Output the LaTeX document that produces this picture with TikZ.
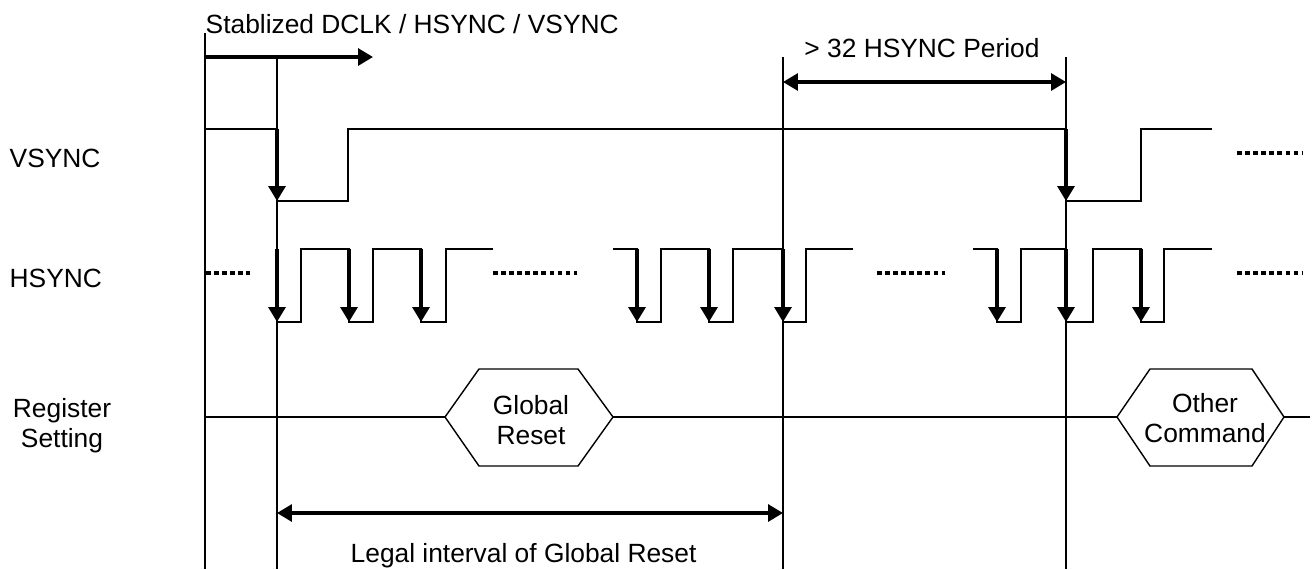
\documentclass[tikz,border=0pt]{standalone}
\usepackage{fontspec}
\setmainfont{Liberation Sans}
\usetikzlibrary{arrows.meta}

\begin{document}
\begin{tikzpicture}[x=0.02cm,y=-0.02cm,line width=0.8pt,
                    >={Triangle[length=8.5pt,width=9.6pt]},
                    font=\fontsize{15pt}{17pt}\selectfont]
  \tikzstyle{edge}=[->,line width=1.9pt]
  \tikzstyle{span}=[<->,line width=1.9pt]
  \tikzstyle{dots}=[line width=2.7pt,dash pattern=on 2.6pt off 2pt]
  \tikzstyle{hex label}=[align=center,inner sep=0pt]
  \tikzstyle{sig label}=[anchor=base west,inner sep=0pt]
  \useasboundingbox (0,0) rectangle (1313,569);

  % signal names
  \node[sig label] (vs) at (9,167) {VSYNC};
  \node[sig label] (hs) at (9,287) {HSYNC};
  \node[hex label] (reg) at (62,426) {Register\\Setting};

  % guide lines
  \coordinate (g0) at (205,33);
  \coordinate (g1) at (277,57);
  \coordinate (g2) at (783,57);
  \coordinate (g3) at (1066,57);
  \draw (g0) -- (205,569);
  \draw (g1) -- (277,569);
  \draw (g2) -- (783,569);
  \draw (g3) -- (1066,569);

  \node[sig label] (stab) at (205,33) {Stablized DCLK / HSYNC / VSYNC};
  \draw[edge] (g0 |- g1) -- (373,57);

  \node[anchor=base,inner sep=0pt] (per) at (922,57) {> 32 HSYNC Period};
  \draw[span] (783,82) -- (1066,82);

  % VSYNC
  \draw (205,129) -- (277,129) -- (277,201) -- (348,201) -- (348,129)
        -- (1066,129) -- (1066,201) -- (1141,201) -- (1141,129) -- (1212,129);
  \foreach \x in {277,1066}
    \draw[edge] (\x,129) -- (\x,201);
  \draw[dots] (1237,153) -- (1303,153);

  % HSYNC
  \draw (277,249) -- (277,322) -- (301,322) -- (301,249) -- (349,249)
        -- (349,322) -- (373,322) -- (373,249) -- (421,249) -- (421,322)
        -- (446,322) -- (446,249) -- (493,249);
  \draw (613,249) -- (637,249) -- (637,322) -- (661,322) -- (661,249)
        -- (709,249) -- (709,322) -- (733,322) -- (733,249) -- (783,249)
        -- (783,322) -- (806,322) -- (806,249) -- (853,249);
  \draw (973,249) -- (997,249) -- (997,322) -- (1021,322) -- (1021,249)
        -- (1066,249) -- (1066,322) -- (1093,322) -- (1093,249) -- (1141,249)
        -- (1141,322) -- (1164,322) -- (1164,249) -- (1212,249);
  \foreach \x in {277,349,421,637,709,783,997,1066,1141}
    \draw[edge] (\x,249) -- (\x,322);
  \draw[dots] (206,273) -- (250,273);
  \draw[dots] (493,273) -- (577,273);
  \draw[dots] (877,273) -- (945,273);
  \draw[dots] (1237,273) -- (1303,273);

  % register setting
  \coordinate (grw) at (445,417);
  \coordinate (gre) at (613,417);
  \coordinate (ocw) at (1117,417);
  \coordinate (oce) at (1284,417);
  \draw (grw) -- (479,369) -- (578,369) -- (gre) -- (578,466) -- (479,466) -- cycle;
  \draw (ocw) -- (1150,369) -- (1252,369) -- (oce) -- (1252,466) -- (1150,466) -- cycle;
  \node[hex label] (gr) at (531,420) {Global\\Reset};
  \node[hex label] (oc) at (1205,418) {Other\\Command};
  \draw (205,417) -- (grw) (gre) -- (ocw) (oce) -- (1310,417);

  \draw[span] (277,513) -- (783,513);
  \node[sig label] (legal) at (350,562) {Legal interval of Global Reset};
\end{tikzpicture}
\end{document}
